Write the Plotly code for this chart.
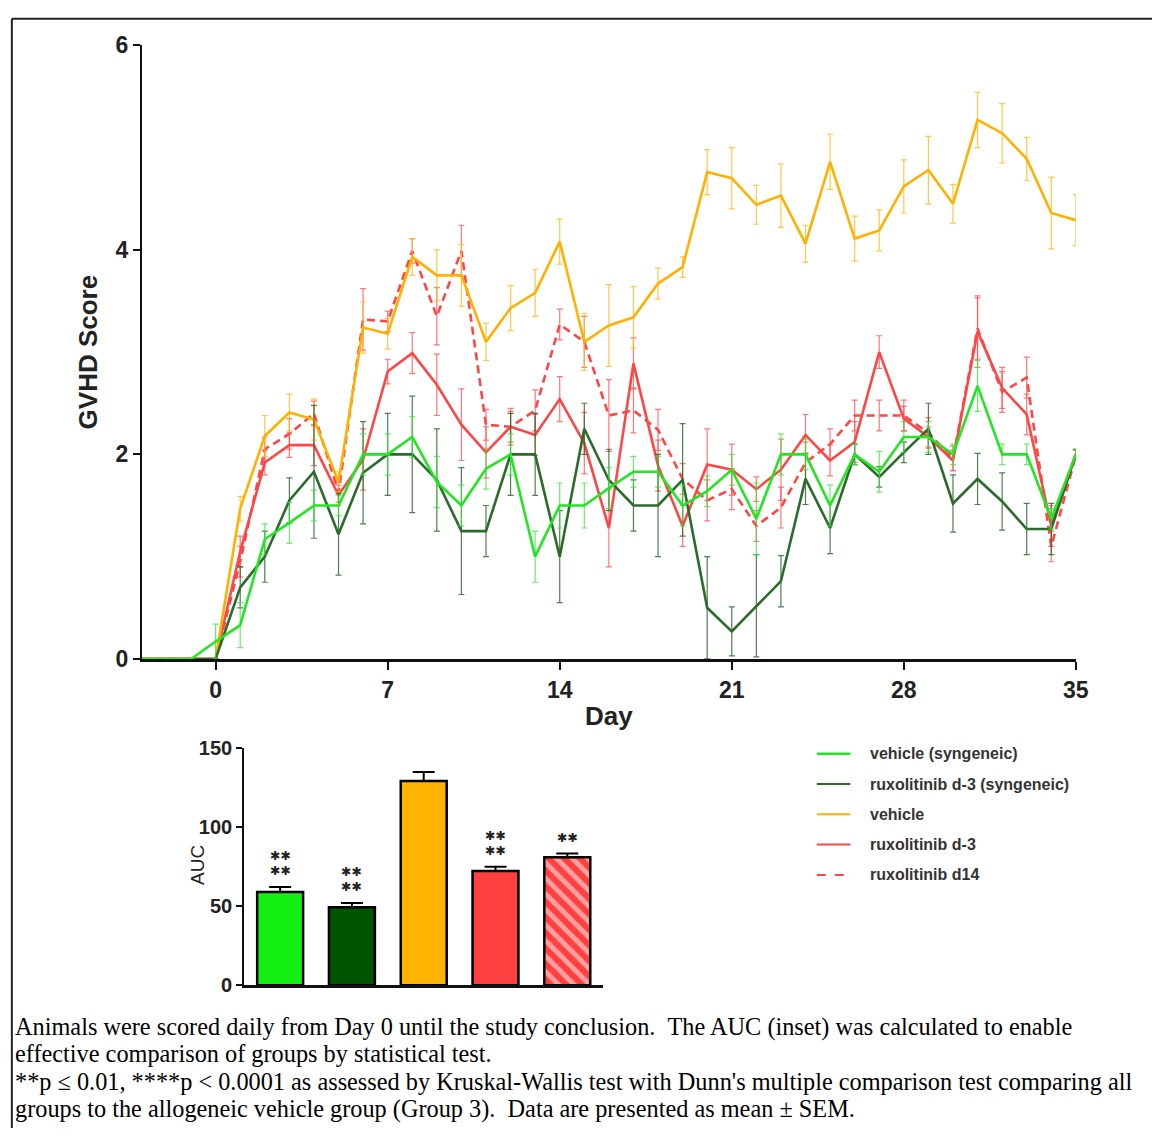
import plotly.graph_objects as go

W, H = 1165, 1141

# ---- GVHD score time course (mean ± SEM) ----
days = list(range(-3, 36))

veh_syn = [0, 0, 0, 0.17, 0.33, 1.17, 1.33, 1.5, 1.5, 2.0, 2.0, 2.17, 1.73, 1.5,
           1.86, 2.0, 1.0, 1.5, 1.5, 1.67, 1.83, 1.83, 1.5, 1.64, 1.85, 1.37,
           2.0, 2.0, 1.5, 2.0, 1.83, 2.17, 2.17, 2.0, 2.67, 2.0, 2.0, 1.37, 2.0]
veh_syn_sem = [0, 0, 0, 0.17, 0.22, 0.15, 0.2, 0.15, 0.1, 0.2, 0.2, 0.2, 0.25, 0.2,
               0.2, 0.2, 0.25, 0.22, 0.22, 0.2, 0.15, 0.15, 0.2, 0.15, 0.15, 0.35,
               0.2, 0.15, 0.2, 0.1, 0.2, 0.15, 0.15, 0.1, 0.25, 0.1, 0.1, 0.1, 0.05]

rux_syn = [0, 0, 0, 0, 0.7, 1.0, 1.55, 1.83, 1.22, 1.82, 2.0, 2.0, 1.75, 1.25,
           1.25, 2.0, 2.0, 1.0, 2.25, 1.75, 1.5, 1.5, 1.75, 0.5, 0.27, 0.52,
           0.76, 1.76, 1.28, 2.0, 1.78, 2.02, 2.25, 1.52, 1.76, 1.54, 1.27, 1.27, 2.0]
rux_syn_sem = [0, 0, 0, 0, 0.2, 0.25, 0.22, 0.65, 0.4, 0.5, 0.4, 0.57, 0.5, 0.62,
               0.25, 0.4, 0.4, 0.45, 0.25, 0.3, 0.25, 0.5, 0.55, 0.5, 0.24, 0.5,
               0.25, 0.25, 0.25, 0.1, 0.1, 0.1, 0.25, 0.28, 0.25, 0.28, 0.25, 0.25, 0.05]

vehicle = [0, 0, 0, 0, 1.47, 2.18, 2.41, 2.34, 1.73, 3.24, 3.18, 3.93, 3.75, 3.75,
           3.10, 3.43, 3.58, 4.08, 3.10, 3.26, 3.34, 3.67, 3.83, 4.76, 4.70, 4.44,
           4.53, 4.06, 4.86, 4.11, 4.19, 4.62, 4.78, 4.45, 5.27, 5.14, 4.89, 4.36, 4.29]
vehicle_sem = [0, 0, 0, 0, 0.12, 0.2, 0.18, 0.2, 0.1, 0.25, 0.15, 0.18, 0.25, 0.3,
               0.18, 0.22, 0.23, 0.22, 0.28, 0.4, 0.3, 0.15, 0.1, 0.22, 0.3, 0.19,
               0.31, 0.18, 0.27, 0.22, 0.2, 0.26, 0.33, 0.19, 0.27, 0.29, 0.21, 0.35, 0.25]

rux_d3 = [0, 0, 0, 0, 1.05, 1.92, 2.09, 2.09, 1.6, 1.95, 2.81, 2.99, 2.68, 2.29,
          2.02, 2.27, 2.19, 2.54, 2.11, 1.28, 2.89, 1.89, 1.30, 1.90, 1.85, 1.66,
          1.85, 2.19, 1.94, 2.12, 3.0, 2.35, 2.17, 1.94, 3.2, 2.65, 2.39, 1.3, 2.0]
rux_d3_sem = [0, 0, 0, 0, 0.15, 0.12, 0.12, 0.2, 0.1, 0.3, 0.12, 0.2, 0.3, 0.35,
              0.25, 0.18, 0.2, 0.22, 0.3, 0.38, 0.25, 0.25, 0.2, 0.35, 0.25, 0.12,
              0.3, 0.2, 0.15, 0.2, 0.16, 0.12, 0.1, 0.1, 0.35, 0.2, 0.2, 0.2, 0.05]

rux_d14 = [0, 0, 0, 0, 0.95, 2.05, 2.2, 2.4, 1.63, 3.32, 3.3, 3.99, 3.35, 3.99,
           2.29, 2.27, 2.43, 3.27, 3.10, 2.38, 2.43, 2.24, 1.76, 1.55, 1.66, 1.3,
           1.48, 1.92, 2.10, 2.38, 2.38, 2.38, 2.21, 1.96, 3.23, 2.61, 2.75, 1.1, 1.99]
rux_d14_sem = [0, 0, 0, 0, 0.15, 0.12, 0.15, 0.12, 0.1, 0.3, 0.1, 0.12, 0.28, 0.25,
               0.15, 0.15, 0.2, 0.15, 0.25, 0.35, 0.22, 0.2, 0.15, 0.2, 0.2, 0.15,
               0.2, 0.2, 0.15, 0.15, 0.15, 0.15, 0.15, 0.12, 0.3, 0.2, 0.2, 0.15, 0.05]

x_ticks = [0, 7, 14, 21, 28, 35]
y_ticks = [0, 2, 4, 6]

# ---- AUC inset ----
auc_groups = ["vehicle (syngeneic)", "ruxolitinib d-3 (syngeneic)", "vehicle",
              "ruxolitinib d-3", "ruxolitinib d14"]
auc_mean = [59.1, 49.4, 129.2, 72.3, 81.0]
auc_sem = [3.1, 2.7, 5.8, 2.7, 2.3]
auc_stars = [4, 4, 0, 4, 2]          # number of significance asterisks per group
auc_ticks = [0, 50, 100, 150]

# ---- styling ----
line_colors = ["#22e622", "#2b6b2b", "#ffb000", "#ff4646", "#ff4646"]
err_colors = ["rgba(60,225,60,0.75)", "rgba(35,95,35,0.8)", "rgba(255,185,30,0.8)",
              "rgba(255,85,85,0.8)", "rgba(255,85,85,0.8)"]
bar_colors = ["#14f014", "#005500", "#ffb400", "#ff4040", "#ff4040"]
SANS = "Liberation Sans, Arial, sans-serif"
SERIF = "Liberation Serif, Times New Roman, serif"


def px(x):
    return x / W


def py(y):
    return 1 - y / H


fig = go.Figure()

series = [
    (veh_syn, veh_syn_sem, 0, "solid"),
    (rux_d14, rux_d14_sem, 4, "8px,5px"),
    (rux_d3, rux_d3_sem, 3, "solid"),
    (vehicle, vehicle_sem, 2, "solid"),
    (rux_syn, rux_syn_sem, 1, "solid"),
]
draw_order = [1, 2, 3, 4, 0]
for idx in draw_order:
    vals, sem, ci, dash = series[idx]
    fig.add_trace(go.Scatter(
        x=days, y=vals, mode="lines", name=auc_groups[ci],
        line=dict(color=line_colors[ci], width=2.6, dash=dash),
        error_y=dict(type="data", array=sem, visible=True,
                     color=err_colors[ci], thickness=1.2, width=3),
        showlegend=False, xaxis="x", yaxis="y",
    ))

# inset bars
bar_x = list(range(len(auc_groups)))
patterns = [dict(shape="")] * 4 + [dict(shape="\\", bgcolor="#ff4040", fgcolor="white",
                                        size=11, solidity=0.45)]
for i in bar_x:
    fig.add_trace(go.Bar(
        x=[i], y=[auc_mean[i]], width=0.64,
        marker=dict(color=bar_colors[i], line=dict(color="black", width=2.5),
                    pattern=patterns[i]),
        error_y=dict(type="data", array=[auc_sem[i]], arrayminus=[0], symmetric=False,
                     visible=True, color="black", thickness=2, width=11),
        showlegend=False, xaxis="x2", yaxis="y2", name=auc_groups[i],
    ))

annotations = []
# significance asterisks, stacked two per row
STAR_ROW = '<span style="font-size:12.5px">\u2731\u2731</span>'
for i, n in enumerate(auc_stars):
    if n == 0:
        continue
    annotations.append(dict(
        x=i, y=auc_mean[i] + auc_sem[i], xref="x2", yref="y2",
        text="<br>".join([STAR_ROW] * (n // 2)), showarrow=False,
        yanchor="bottom", xanchor="center", yshift=7,
        font=dict(family="DejaVu Sans", size=11.2, color="#222"),
    ))

# inset y title
annotations.append(dict(x=px(199), y=py(872), xref="paper", yref="paper", text="AUC",
                        textangle=-90, showarrow=False, xanchor="center",
                        yanchor="middle",
                        font=dict(family=SANS, size=19, color="#222")))

# legend
legend_rows = [758, 789, 820, 851, 882]
shapes = []
for k, ci in enumerate([0, 1, 2, 3, 4]):
    yy = py(legend_rows[k])
    shapes.append(dict(type="line", xref="paper", yref="paper",
                       x0=px(826), x1=px(860), y0=yy, y1=yy,
                       line=dict(color=line_colors[ci], width=2.5 if k == 0 else 2,
                                 dash="dash" if ci == 4 else "solid")))
    annotations.append(dict(x=px(878), y=yy, xref="paper", yref="paper",
                            text=auc_groups[ci], showarrow=False,
                            xanchor="left", yanchor="middle",
                            font=dict(family=SANS, size=16, color="#333",
                                      weight="bold")))

# caption
caption = [
    "Animals were scored daily from Day 0 until the study conclusion. \u00a0The AUC (inset) was calculated to enable",
    "effective comparison of groups by statistical test.",
    "**p \u2264 0.01, ****p < 0.0001 as assessed by Kruskal-Wallis test with Dunn's multiple comparison test comparing all",
    "groups to the allogeneic vehicle group (Group 3). \u00a0Data are presented as mean \u00b1 SEM.",
]
cap_rows = [1038, 1065, 1093, 1122]
for line, yy in zip(caption, cap_rows):
    annotations.append(dict(x=px(13), y=py(yy), xref="paper", yref="paper",
                            text=line, showarrow=False, xanchor="left",
                            yanchor="middle",
                            font=dict(family=SERIF, size=24.3, color="black")))

# frame lines at top and left
shapes.append(dict(type="line", xref="paper", yref="paper", x0=px(12), x1=1,
                   y0=py(6), y1=py(6), line=dict(color="#222", width=2)))
shapes.append(dict(type="line", xref="paper", yref="paper", x0=px(12), x1=px(12),
                   y0=py(6), y1=0, line=dict(color="#222", width=2)))

tick_font = dict(family=SANS, size=23, color="#222", weight="bold")
title_font = dict(family=SANS, size=26, color="#222", weight="bold")

fig.update_layout(
    width=W, height=H, margin=dict(l=0, r=0, t=0, b=0),
    paper_bgcolor="white", plot_bgcolor="rgba(0,0,0,0)",
    xaxis=dict(domain=[px(143.5), px(1088)], range=[-3, 35], tickvals=x_ticks,
               showgrid=False, zeroline=False, showline=True, linecolor="#111",
               linewidth=3, ticks="outside", ticklen=8, tickwidth=2,
               tickcolor="#111", tickfont=tick_font, layer="below traces",
               title=dict(text="Day", font=title_font, standoff=6),
               anchor="y"),
    yaxis=dict(domain=[py(661), py(33)], range=[0, 6], tickvals=y_ticks,
               showgrid=False, zeroline=False, showline=True, linecolor="#111",
               linewidth=2, ticks="outside", ticklen=7, tickwidth=2,
               tickcolor="#111", tickfont=tick_font, layer="below traces",
               title=dict(text="GVHD Score", font=title_font, standoff=10),
               anchor="x"),
    xaxis2=dict(domain=[px(247), px(610)], range=[-0.5, 4.5], showticklabels=False,
                showgrid=False, zeroline=False, showline=True, linecolor="#111",
                linewidth=2.5, ticks="", anchor="y2"),
    yaxis2=dict(domain=[py(995), py(752.3)], range=[0, 150], tickvals=auc_ticks,
                showgrid=False, zeroline=False, showline=True, linecolor="#111",
                linewidth=2, ticks="outside", ticklen=6, tickwidth=2,
                tickcolor="#111",
                tickfont=dict(family=SANS, size=20, color="#222", weight="bold"),
                anchor="x2"),
    bargap=0.36,
    annotations=annotations,
    shapes=shapes,
)

fig.write_html("out.html")
